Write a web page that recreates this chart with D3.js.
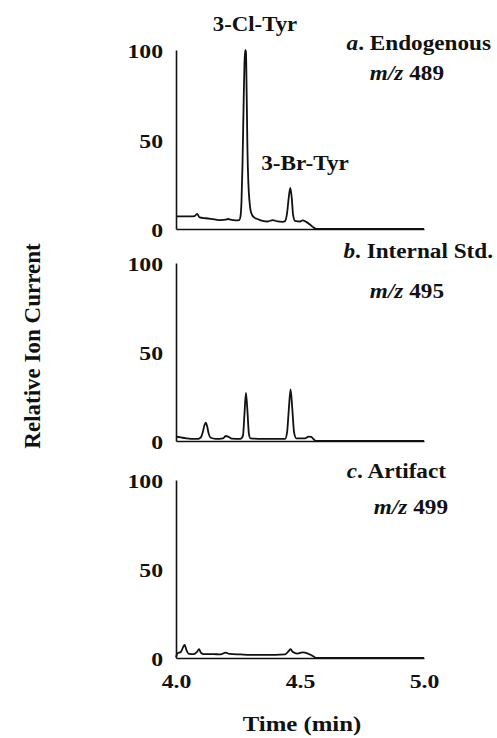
<!DOCTYPE html>
<html>
<head>
<meta charset="utf-8">
<script src="https://cdn.jsdelivr.net/npm/d3@7"></script>
<style>
  body { margin: 0; background: #fff; }
  text { font-family: "Liberation Serif", "Times New Roman", serif; font-weight: bold; fill: #111; }
  .axis path { stroke: #111; stroke-width: 1.6px; }
  .axis text { font-size: 19px; }
</style>
</head>
<body>
<svg id="area" width="497" height="738"></svg>
<script>

// a. Endogenous, m/z 489
let timeA = [4.000, 4.030, 4.060, 4.075, 4.085, 4.095, 4.120, 4.150, 4.180, 4.200, 4.210, 4.220, 4.240, 4.255,
    4.260, 4.264, 4.268, 4.272, 4.276, 4.279, 4.282, 4.285, 4.288, 4.292, 4.296, 4.300, 4.306, 4.315, 4.330,
    4.350, 4.370, 4.390, 4.410, 4.430, 4.440, 4.448, 4.455, 4.461, 4.467, 4.472, 4.480, 4.500, 4.510, 4.525,
    4.540, 4.555, 4.565, 5.000];
let endogenous = [7, 7, 7, 7.2, 8.5, 6.5, 6, 5.5, 5, 5.2, 5.6, 5.2, 4.8, 5,
    7, 15, 35, 65, 92, 100, 99, 75, 45, 25, 16, 11, 8, 6.5, 5.5,
    4.5, 4.2, 5, 4.2, 4, 4.5, 9, 18, 23, 17, 8, 4.5, 4.2, 4.8, 4,
    2.5, 0.8, 0, 0];

// b. Internal Std., m/z 495
let timeB = [4.000, 4.020, 4.040, 4.060, 4.090, 4.100, 4.108, 4.115, 4.120, 4.126, 4.132, 4.140, 4.160, 4.190,
    4.200, 4.210, 4.225, 4.260, 4.270, 4.276, 4.282, 4.288, 4.294, 4.300, 4.350, 4.440, 4.448, 4.455, 4.462,
    4.469, 4.476, 4.485, 4.520, 4.535, 4.545, 4.555, 4.565, 5.000];
let internalStd = [2.5, 2, 1.5, 1.2, 1.2, 2, 5, 9, 10.3, 8, 4, 1.8, 1.2, 1.5,
    2.8, 2.5, 1.3, 1.2, 3, 15, 27, 17, 4, 1.5, 1.2, 1.2, 5, 18, 29,
    18, 5, 1.5, 1.5, 2.5, 2.3, 1, 0, 0];

// c. Artifact, m/z 499
let timeC = [4.000, 4.005, 4.020, 4.030, 4.035, 4.042, 4.050, 4.070, 4.085, 4.093, 4.100, 4.110, 4.150, 4.180,
    4.200, 4.215, 4.260, 4.300, 4.400, 4.440, 4.455, 4.462, 4.470, 4.490, 4.510, 4.520, 4.540, 4.555, 4.565, 5.000];
let artifact = [0.5, 2.5, 3.5, 6.5, 7.3, 4.5, 2.5, 2.2, 3.5, 5, 3, 2.2, 2.2, 2,
    3, 2.3, 2, 1.8, 1.8, 2, 4, 5, 3.5, 2.5, 3.2, 3, 2, 0.8, 0, 0];

let panelNames = ["a", "b", "c"];
let panelTitles = ["Endogenous", "Internal Std.", "Artifact"];
let massLabels = ["489", "495", "499"];
let timeTicks = [4.0, 4.5, 5.0];
let currentTicks = [0, 50, 100];

let svg = d3.select("#area");

// the printed type is wider than Liberation Serif, so stretch glyphs sideways
function widen(sel, factor) {
    sel.each(function() {
        let w = this.getComputedTextLength();
        d3.select(this)
            .attr("textLength", w * factor)
            .attr("lengthAdjust", "spacingAndGlyphs");
    });
}

let xScale = d3.scaleLinear()
    .domain([4, 5])
    .range([176, 424]);

let panels = [
    {times: timeA, values: endogenous, top: 50, bottom: 229, titleRight: 491, titleY: 50, massRight: 444, massY: 80},
    {times: timeB, values: internalStd, top: 263, bottom: 441, titleRight: 493, titleY: 258, massRight: 444, massY: 298},
    {times: timeC, values: artifact, top: 480, bottom: 658, titleRight: 446, titleY: 478, massRight: 448, massY: 514}
];

panels.forEach(function(p, i) {
    let yScale = d3.scaleLinear()
        .domain([0, 100])
        .range([p.bottom, p.top]);

    let leftAxis = d3.axisLeft(yScale)
        .tickValues(currentTicks)
        .tickSize(0)
        .tickPadding(13);

    svg.append("g")
        .attr("class", "axis")
        .attr("transform", "translate(" + 176 + ",0)")
        .call(leftAxis)
        .call(g => widen(g.selectAll("text").attr("dy", "0.42em"), 1.25));

    let bottomAxis = d3.axisBottom(xScale)
        .tickValues(timeTicks)
        .tickSize(0)
        .tickPadding(17)
        .tickFormat(i == 2 ? d3.format(".1f") : "");

    svg.append("g")
        .attr("class", "axis")
        .attr("transform", "translate(0," + p.bottom + ")")
        .call(bottomAxis)
        .call(g => widen(g.selectAll("text"), 1.25));

    let points = p.times.map((t, k) => [t, p.values[k]]);

    let line = d3.line()
        .x(function(d) { return xScale(d[0]); })
        .y(function(d) { return yScale(d[1]); })
        .curve(d3.curveMonotoneX);

    svg.append("path")
        .datum(points)
        .attr("d", line)
        .style("fill", "none")
        .style("stroke", "#111")
        .style("stroke-width", "1.8px")
        .style("stroke-linejoin", "round");

    let title = svg.append("text")
        .attr("x", p.titleRight)
        .attr("y", p.titleY)
        .attr("text-anchor", "end")
        .style("font-size", "20px");
    title.append("tspan").style("font-style", "italic").text(panelNames[i]);
    title.append("tspan").text(". " + panelTitles[i]);
    widen(title, 1.16);

    let mass = svg.append("text")
        .attr("x", p.massRight)
        .attr("y", p.massY)
        .attr("text-anchor", "end")
        .style("font-size", "20px");
    mass.append("tspan").style("font-style", "italic").text("m/z");
    mass.append("tspan").text(" " + massLabels[i]);
    widen(mass, 1.16);
});

// peak labels in panel a
widen(svg.append("text")
    .attr("x", 255)
    .attr("y", 31)
    .attr("text-anchor", "middle")
    .style("font-size", "20px")
    .text("3-Cl-Tyr"), 1.14);

widen(svg.append("text")
    .attr("x", 305)
    .attr("y", 170)
    .attr("text-anchor", "middle")
    .style("font-size", "20px")
    .text("3-Br-Tyr"), 1.16);

widen(svg.append("text")
    .attr("x", 302)
    .attr("y", 731)
    .attr("text-anchor", "middle")
    .style("font-size", "21px")
    .text("Time (min)"), 1.18);

svg.append("text")
    .attr("transform", "translate(40,346) rotate(-90)")
    .attr("text-anchor", "middle")
    .style("font-size", "23px")
    .text("Relative Ion Current");

</script>
</body>
</html>
